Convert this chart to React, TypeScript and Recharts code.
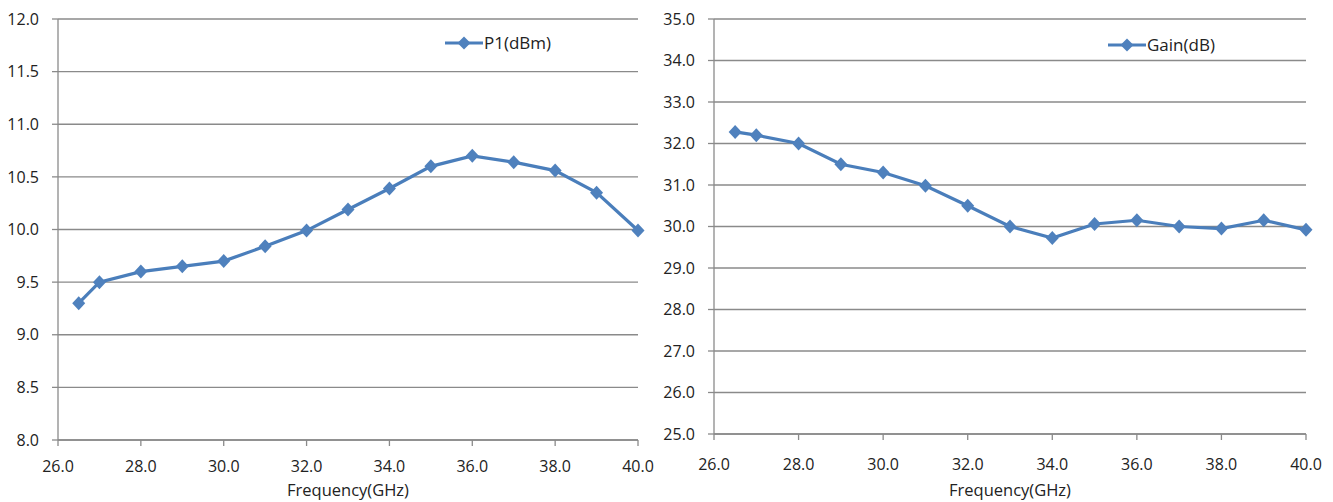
import { LineChart, Line, XAxis, YAxis, CartesianGrid, Legend } from 'recharts';

const freq = [26.5, 27, 28, 29, 30, 31, 32, 33, 34, 35, 36, 37, 38, 39, 40];
const p1 = [9.3, 9.5, 9.6, 9.65, 9.7, 9.84, 9.99, 10.19, 10.39, 10.6, 10.7, 10.64, 10.56, 10.35, 9.99];
const gain = [32.28, 32.2, 32.0, 31.5, 31.3, 30.98, 30.5, 30.0, 29.72, 30.06, 30.15, 30.0, 29.95, 30.15, 29.92];

const xTicks = [26, 28, 30, 32, 34, 36, 38, 40];
const p1Ticks = [8, 8.5, 9, 9.5, 10, 10.5, 11, 11.5, 12];
const gainTicks = [25, 26, 27, 28, 29, 30, 31, 32, 33, 34, 35];

const BLUE = '#4A7EBB';
const GRID = '#8a8a8a';
const TEXT = '#222';
const FONT = '"Open Sans", sans-serif';

const Diamond = (props: any) => {
  const { cx, cy, index } = props;
  if (cx == null || cy == null) return null;
  return (
    <polygon
      key={index}
      points={`${cx},${cy - 7} ${cx + 6.5},${cy} ${cx},${cy + 7} ${cx - 6.5},${cy}`}
      fill="#4F81BD"
    />
  );
};

const legendContent = (label: string) => () => (
  <div style={{ display: 'flex', alignItems: 'center', fontFamily: FONT, fontSize: 17, color: TEXT, whiteSpace: 'nowrap' }}>
    <svg width={38} height={14}>
      <line x1={0} y1={7} x2={38} y2={7} stroke={BLUE} strokeWidth={3.2} />
      <polygon points="19,0.5 25.5,7 19,13.5 12.5,7" fill="#4F81BD" />
    </svg>
    <span style={{ marginLeft: 1 }}>{label}</span>
  </div>
);

type PanelProps = {
  values: number[];
  yTicks: number[];
  name: string;
  width: number;
  margin: { top: number; right: number; bottom: number; left: number };
  yWidth: number;
  xHeight: number;
  xTickMargin: number;
  legendPos: { left: number; top: number };
};

function Panel({ values, yTicks, name, width, margin, yWidth, xHeight, xTickMargin, legendPos }: PanelProps) {
  const data = freq.map((f, i) => ({ freq: f, value: values[i] }));
  const tickStyle = { fill: TEXT, fontSize: 16, fontFamily: FONT };
  return (
    <LineChart width={width} height={502} data={data} margin={margin}>
      <CartesianGrid vertical={false} stroke={GRID} strokeWidth={1.3} />
      <XAxis
        type="number"
        dataKey="freq"
        domain={[26, 40]}
        ticks={xTicks}
        interval={0}
        tickFormatter={(v: number) => v.toFixed(1)}
        stroke={GRID}
        strokeWidth={1.3}
        tickSize={6}
        tickMargin={xTickMargin}
        tick={tickStyle}
        height={xHeight}
        label={{ value: 'Frequency(GHz)', position: 'insideBottom', offset: 6, fill: TEXT, fontSize: 16.5, fontFamily: FONT }}
      />
      <YAxis
        type="number"
        domain={[yTicks[0], yTicks[yTicks.length - 1]]}
        ticks={yTicks}
        interval={0}
        tickFormatter={(v: number) => v.toFixed(1)}
        stroke={GRID}
        strokeWidth={1.3}
        tickSize={6}
        tickMargin={13}
        tick={tickStyle}
        width={yWidth}
      />
      <Legend
        layout="horizontal"
        verticalAlign="middle"
        align="center"
        content={legendContent(name)}
        wrapperStyle={{ left: legendPos.left, top: legendPos.top, width: 'auto' }}
      />
      <Line
        type="linear"
        dataKey="value"
        name={name}
        stroke={BLUE}
        strokeWidth={3.2}
        dot={Diamond}
        activeDot={false}
        isAnimationActive={false}
      />
    </LineChart>
  );
}

export default function App() {
  return (
    <div style={{ position: 'absolute', left: 0, top: 0, width: 1333, height: 502, background: '#fff' }}>
      <div style={{ position: 'absolute', left: 0, top: 0 }}>
        <Panel
          values={p1}
          yTicks={p1Ticks}
          name="P1(dBm)"
          width={660}
          margin={{ top: 19, right: 22, bottom: 0, left: 0 }}
          yWidth={58}
          xHeight={62}
          xTickMargin={15}
          legendPos={{ left: 445, top: 31 }}
        />
      </div>
      <div style={{ position: 'absolute', left: 660, top: 0 }}>
        <Panel
          values={gain}
          yTicks={gainTicks}
          name="Gain(dB)"
          width={673}
          margin={{ top: 19, right: 27, bottom: 0, left: 0 }}
          yWidth={54}
          xHeight={68}
          xTickMargin={19}
          legendPos={{ left: 448, top: 33 }}
        />
      </div>
    </div>
  );
}
